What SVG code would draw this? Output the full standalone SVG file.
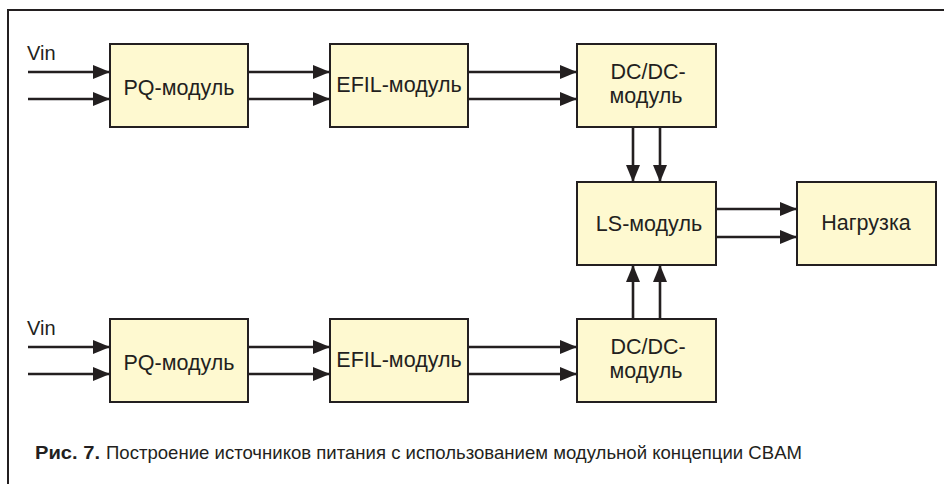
<svg xmlns="http://www.w3.org/2000/svg" width="944" height="484" viewBox="0 0 944 484">
<defs>
<marker id="ah" viewBox="0 0 17 14" refX="17" refY="7" markerWidth="17" markerHeight="14" markerUnits="userSpaceOnUse" orient="auto">
<path d="M0,0 L17,7 L0,14 Z" fill="#231f20"/>
</marker>
<style>
.box{fill:#fef9d0;stroke:#231f20;stroke-width:2}
.t{font-family:"Liberation Sans",Arial,sans-serif;font-size:21.5px;fill:#231f20;text-anchor:middle}
.v{font-family:"Liberation Sans",Arial,sans-serif;font-size:20px;fill:#231f20}
.c{stroke:#231f20;stroke-width:2.6;fill:none;marker-end:url(#ah)}
.cap{font-family:"Liberation Sans",Arial,sans-serif;font-size:18.5px;fill:#231f20}
</style>
</defs>
<rect width="944" height="484" fill="#ffffff"/>
<path d="M8,484 V10 H944" fill="none" stroke="#231f20" stroke-width="2"/>

<g id="pq1"><rect class="box" x="110" y="44" width="138" height="83"/><text class="t" x="179" y="95">PQ-модуль</text></g>
<g id="efil1"><rect class="box" x="330" y="44" width="138" height="83"/><text class="t" x="399" y="92">EFIL-модуль</text></g>
<g id="dcdc1"><rect class="box" x="577" y="44" width="139" height="83"/><text class="t" x="648" y="79">DC/DC-</text><text class="t" x="646" y="103">модуль</text></g>
<g id="ls"><rect class="box" x="577" y="182" width="139" height="83"/><text class="t" x="649" y="231">LS-модуль</text></g>
<g id="load"><rect class="box" x="797" y="182" width="139" height="83"/><text class="t" x="866" y="230">Нагрузка</text></g>
<g id="pq2"><rect class="box" x="110" y="319" width="138" height="83"/><text class="t" x="179" y="370">PQ-модуль</text></g>
<g id="efil2"><rect class="box" x="330" y="319" width="138" height="83"/><text class="t" x="399" y="367">EFIL-модуль</text></g>
<g id="dcdc2"><rect class="box" x="577" y="319" width="139" height="83"/><text class="t" x="648" y="354">DC/DC-</text><text class="t" x="646" y="378">модуль</text></g>

<g id="vin1"><text class="v" x="27" y="60">Vin</text></g>
<g id="vin2"><text class="v" x="27" y="335">Vin</text></g>

<g id="connectors">
<line class="c" x1="28" y1="72" x2="110" y2="72"/>
<line class="c" x1="28" y1="99" x2="110" y2="99"/>
<line class="c" x1="248" y1="72" x2="330" y2="72"/>
<line class="c" x1="248" y1="99" x2="330" y2="99"/>
<line class="c" x1="468" y1="72" x2="577" y2="72"/>
<line class="c" x1="468" y1="99" x2="577" y2="99"/>
<line class="c" x1="633" y1="127" x2="633" y2="182"/>
<line class="c" x1="660" y1="127" x2="660" y2="182"/>
<line class="c" x1="716" y1="209" x2="797" y2="209"/>
<line class="c" x1="716" y1="237" x2="797" y2="237"/>
<line class="c" x1="633" y1="319" x2="633" y2="265"/>
<line class="c" x1="660" y1="319" x2="660" y2="265"/>
<line class="c" x1="28" y1="347" x2="110" y2="347"/>
<line class="c" x1="28" y1="374" x2="110" y2="374"/>
<line class="c" x1="248" y1="347" x2="330" y2="347"/>
<line class="c" x1="248" y1="374" x2="330" y2="374"/>
<line class="c" x1="468" y1="347" x2="577" y2="347"/>
<line class="c" x1="468" y1="374" x2="577" y2="374"/>
</g>

<g id="caption">
<text class="cap" x="35" y="459" font-weight="bold" textLength="65" lengthAdjust="spacingAndGlyphs">Рис. 7.</text>
<text class="cap" x="106" y="459" textLength="696" lengthAdjust="spacingAndGlyphs">Построение источников питания с использованием модульной концепции CBAM</text>
</g>
</svg>
